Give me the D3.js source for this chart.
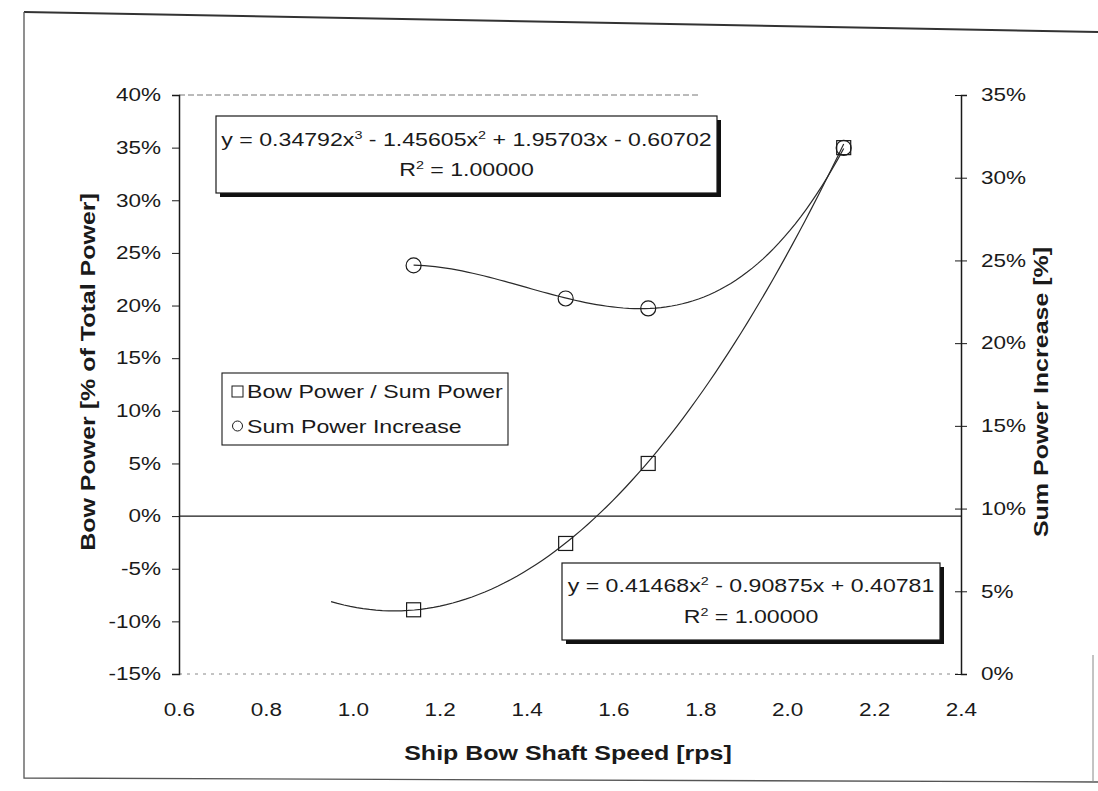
<!DOCTYPE html>
<html><head><meta charset="utf-8">
<script src="https://cdn.jsdelivr.net/npm/d3@7"></script>
<style>
html,body{margin:0;padding:0;background:#fff;}
svg{display:block;font-family:"Liberation Sans",Arial,sans-serif;}
</style></head>
<body>
<svg id="chart" width="1098" height="791"></svg>
<script>
// ---- data ----
const xTicks = [0.6, 0.8, 1.0, 1.2, 1.4, 1.6, 1.8, 2.0, 2.2, 2.4];
const leftTicks = [-0.15, -0.10, -0.05, 0, 0.05, 0.10, 0.15, 0.20, 0.25, 0.30, 0.35, 0.40];
const rightTicks = [0, 0.05, 0.10, 0.15, 0.20, 0.25, 0.30, 0.35];
const speed = [1.14, 1.49, 1.68, 2.13];
const bowShare = [-0.089, -0.026, 0.050, 0.350];      // Bow Power / Sum Power (left axis)
const sumIncrease = [0.247, 0.227, 0.221, 0.318];     // Sum Power Increase (right axis)
// trend lines, coefficients as printed on the chart (c0 + c1 x + c2 x^2 + c3 x^3)
const bowFitCoef = [0.40781, -0.90875, 0.41468];
const bowFitRange = [0.95, 2.13];
const sumFitCoef = [-0.60702, 1.95703, -1.45605, 0.34792];
const sumFitRange = [1.14, 2.13];
const rSquared = ["1.00000", "1.00000"];
const seriesNames = ["Bow Power / Sum Power", "Sum Power Increase"];

// ---- layout ----
const svg = d3.select("#chart");
const L = 179, R = 961, T = 95, B = 674;
const SX = 1.25;  // the source font is wider than Arial
const x = d3.scaleLinear().domain([0.6, 2.4]).range([L, R]);
const yL = d3.scaleLinear().domain([-0.15, 0.40]).range([B, T]);
const yR = d3.scaleLinear().domain([0, 0.35]).range([B, T]);
const ink = "#1a1a1a";
const FF = "Liberation Sans, Arial, sans-serif";
const pct = d => Math.round(d * 100) + "%";

// outer frame (scanned page border)
svg.append("path").attr("d", "M24,12 L1098,32").attr("stroke", "#333").attr("stroke-width", 2).attr("fill", "none");
svg.append("path").attr("d", "M24,12 L24,778 L1098,782").attr("stroke", "#555").attr("stroke-width", 1.3).attr("fill", "none");
svg.append("path").attr("d", "M1093,655 L1093,782").attr("stroke", "#888").attr("stroke-width", 1).attr("fill", "none");

// plot area border (faint dashed)
svg.append("line").attr("x1", L).attr("x2", 700).attr("y1", T).attr("y2", T)
  .attr("stroke", "#777").attr("stroke-dasharray", "6,3").attr("stroke-width", 1);
svg.append("line").attr("x1", L).attr("x2", R).attr("y1", B).attr("y2", B)
  .attr("stroke", "#888").attr("stroke-dasharray", "3,5").attr("stroke-width", 1);

// left axis
const gl = svg.append("g").attr("transform", `translate(${L},0)`)
  .call(d3.axisLeft(yL).tickValues(leftTicks).tickFormat(pct).tickSize(7).tickPadding(11));
gl.select(".domain").attr("stroke", ink).attr("stroke-width", 1.5);
gl.selectAll(".tick line").attr("stroke", ink);
gl.selectAll("text").attr("font-size", 18).attr("fill", ink).attr("font-family", FF)
  .attr("x", -18 / SX).attr("transform", `scale(${SX},1)`);

// right axis (crossing ticks)
const gr = svg.append("g").attr("transform", `translate(${R},0)`)
  .call(d3.axisRight(yR).tickValues(rightTicks).tickFormat(pct).tickSize(6).tickPadding(14));
gr.select(".domain").attr("stroke", ink).attr("stroke-width", 1.5);
gr.selectAll(".tick line").attr("stroke", ink).attr("x1", -6);
gr.selectAll("text").attr("font-size", 18).attr("fill", ink).attr("font-family", FF)
  .attr("x", 20 / SX).attr("transform", `scale(${SX},1)`);

// bottom axis labels only
const gb = svg.append("g").attr("transform", `translate(0,${B})`)
  .call(d3.axisBottom(x).tickValues(xTicks).tickFormat(d3.format(".1f")).tickSize(0).tickPadding(29));
gb.select(".domain").remove();
gb.selectAll("text").attr("font-size", 18).attr("fill", ink).attr("font-family", FF)
  .attr("transform", `scale(${SX},1)`);

// zero line
svg.append("line").attr("x1", L).attr("x2", R).attr("y1", yL(0)).attr("y2", yL(0))
  .attr("stroke", ink).attr("stroke-width", 1.2);

// axis titles
function title(tx, ty, rot, txt) {
  svg.append("text").attr("transform", `translate(${tx},${ty}) rotate(${rot}) scale(${SX},1)`)
    .attr("text-anchor", "middle").attr("font-size", 20).attr("font-weight", "bold")
    .attr("fill", ink).text(txt);
}
title((L + R) / 2 - 2, 760, 0, "Ship Bow Shaft Speed [rps]");
title(95, 372, -90, "Bow Power [% of Total Power]");
title(1048, 392, -90, "Sum Power Increase [%]");

// trend lines
const poly = (c, v) => c.reduce((s, ci, i) => s + ci * Math.pow(v, i), 0);
function sampleFit(coef, range) {
  const n = 80, pts = [];
  for (let i = 0; i <= n; i++) { const v = range[0] + (range[1] - range[0]) * i / n; pts.push([v, poly(coef, v)]); }
  return pts;
}
svg.append("path").datum(sampleFit(bowFitCoef, bowFitRange))
  .attr("d", d3.line().x(d => x(d[0])).y(d => yL(d[1])))
  .attr("fill", "none").attr("stroke", "#2a2a2a").attr("stroke-width", 1.2);
svg.append("path").datum(sampleFit(sumFitCoef, sumFitRange))
  .attr("d", d3.line().x(d => x(d[0])).y(d => yR(d[1])))
  .attr("fill", "none").attr("stroke", "#2a2a2a").attr("stroke-width", 1.2);

// markers
const ms = 14;
svg.selectAll("rect.sq").data(speed.map((s, i) => [s, bowShare[i]])).enter().append("rect")
  .attr("x", d => x(d[0]) - ms / 2).attr("y", d => yL(d[1]) - ms / 2).attr("width", ms).attr("height", ms)
  .attr("fill", "none").attr("stroke", ink).attr("stroke-width", 1.2);
svg.selectAll("circle.ci").data(speed.map((s, i) => [s, sumIncrease[i]])).enter().append("circle")
  .attr("cx", d => x(d[0])).attr("cy", d => yR(d[1])).attr("r", 7.5)
  .attr("fill", "none").attr("stroke", ink).attr("stroke-width", 1.2);

// equation boxes
function eqParts(coef) {
  const parts = [{t: "y = "}];
  const deg = coef.length - 1;
  for (let i = deg; i >= 0; i--) {
    const c = coef[i];
    const mag = Math.abs(c).toFixed(5);
    if (i === deg) parts.push({t: (c < 0 ? "-" : "") + mag});
    else parts.push({t: (c < 0 ? " - " : " + ") + mag});
    if (i >= 1) parts.push({t: "x"});
    if (i >= 2) parts.push({sup: String(i)});
  }
  return parts;
}
function writeRich(g, cx, by, parts) {
  const t = g.append("text").attr("transform", `translate(${cx},${by}) scale(${SX},1)`)
    .attr("text-anchor", "middle").attr("font-size", 18.5).attr("fill", ink).attr("xml:space", "preserve");
  let raised = false;
  parts.forEach(p => {
    if (p.sup) { t.append("tspan").attr("font-size", 11.5).attr("dy", -7).text(p.sup); raised = true; }
    else { const s = t.append("tspan").text(p.t); if (raised) { s.attr("dy", 7); raised = false; } }
  });
}
function eqBox(bx, by, bw, bh, coef, r2, b1, b2) {
  const g = svg.append("g");
  g.append("rect").attr("x", bx + 4).attr("y", by + 4).attr("width", bw).attr("height", bh).attr("fill", "#111");
  g.append("rect").attr("x", bx).attr("y", by).attr("width", bw).attr("height", bh)
    .attr("fill", "#fff").attr("stroke", ink).attr("stroke-width", 1.2);
  writeRich(g, bx + bw / 2, b1, eqParts(coef));
  writeRich(g, bx + bw / 2, b2, [{t: "R"}, {sup: "2"}, {t: " = " + r2}]);
}
eqBox(216, 116, 501, 77, sumFitCoef, rSquared[0], 146, 176);
eqBox(562, 563, 378, 77, bowFitCoef, rSquared[1], 592, 623);

// legend
const lg = svg.append("g");
lg.append("rect").attr("x", 222).attr("y", 373).attr("width", 286).attr("height", 72)
  .attr("fill", "#fff").attr("stroke", ink).attr("stroke-width", 1.1);
lg.append("rect").attr("x", 232).attr("y", 386).attr("width", 11).attr("height", 11)
  .attr("fill", "none").attr("stroke", ink).attr("stroke-width", 1);
lg.append("circle").attr("cx", 237.5).attr("cy", 426).attr("r", 5)
  .attr("fill", "none").attr("stroke", ink).attr("stroke-width", 1);
[[seriesNames[0], 398], [seriesNames[1], 433]].forEach(([txt, yy]) => {
  lg.append("text").attr("transform", `translate(247,${yy}) scale(${SX},1)`)
    .attr("font-size", 18.5).attr("fill", ink).text(txt);
});
</script>
</body></html>
